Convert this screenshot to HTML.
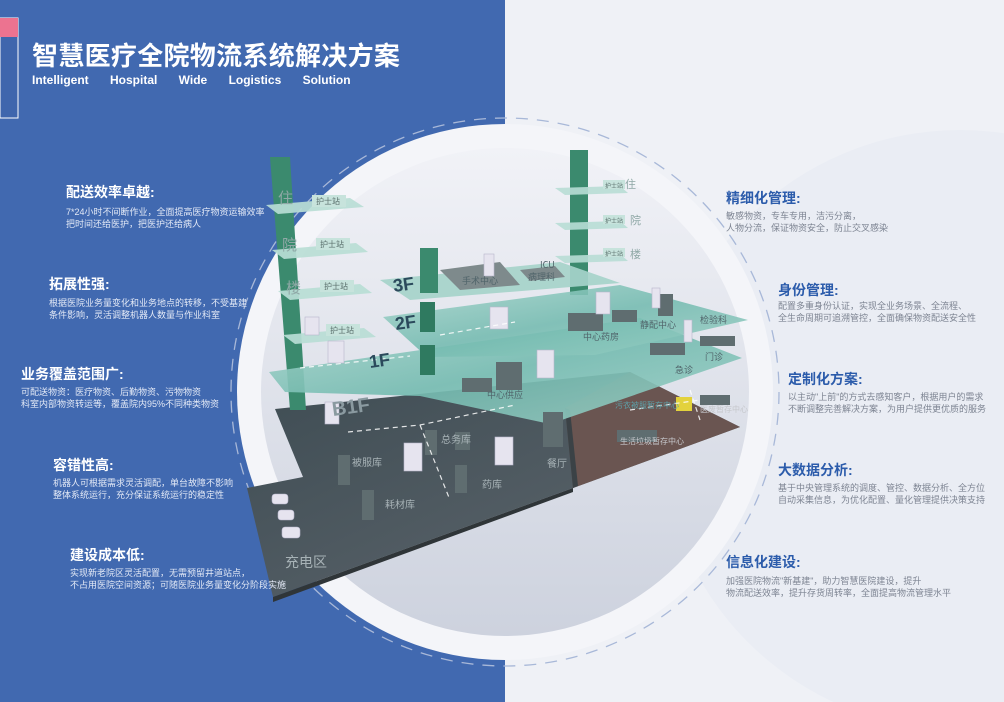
<!DOCTYPE html>
<html><head><meta charset="utf-8"><style>
html,body{margin:0;padding:0}
body{width:1004px;height:702px;overflow:hidden;position:relative;font-family:"Liberation Sans","Noto Sans CJK SC",sans-serif;background:#eef0f6}
.t{position:absolute;white-space:nowrap}
.lh{color:#fff;font-weight:bold;font-size:14px}
.ld{color:#e3e9f6;font-size:9px;line-height:12px}
.rh{color:#2c5cab;font-weight:bold;font-size:14px}
.rd{color:#7d8492;font-size:9px;line-height:12px}
</style></head><body>
<svg width="1004" height="702" style="position:absolute;left:0;top:0" xmlns="http://www.w3.org/2000/svg">
<defs>
<linearGradient id="disc" x1="0" y1="0" x2="0" y2="1"><stop offset="0" stop-color="#f1f2f7"/><stop offset="1" stop-color="#cdd2de"/></linearGradient>
<linearGradient id="pl" x1="0" y1="0" x2="1" y2="1"><stop offset="0" stop-color="#a9d6cd"/><stop offset="0.5" stop-color="#74bbb0"/><stop offset="1" stop-color="#9dd0c6"/></linearGradient>
<linearGradient id="dk" x1="0" y1="0" x2="1" y2="1"><stop offset="0" stop-color="#3e4c53"/><stop offset="1" stop-color="#5f676e"/></linearGradient>
</defs>
<rect x="0" y="0" width="505" height="702" fill="#4169b0"/>
<rect x="505" y="0" width="499" height="702" fill="#eff1f6"/>
<circle cx="960" cy="430" r="300" fill="#eaedf4"/>
<circle cx="505" cy="392" r="268" fill="#f4f5f9"/>
<circle cx="505" cy="392" r="244" fill="url(#disc)"/>
<circle cx="505" cy="392" r="274" fill="none" stroke="#a8b8d8" stroke-width="1.3" stroke-dasharray="12 9"/>
<rect x="0" y="18" width="18" height="100" fill="#3f66ad" stroke="#fff" stroke-width="1"/>
<rect x="0" y="18" width="18" height="19" fill="#ec7390"/>
<!-- basement -->
<polygon points="275,409 630,372 740,427 573,488 273,597 247,488 303,477" fill="url(#dk)"/>
<polygon points="273,597 573,488 573,492 273,602" fill="#2f3538"/>
<polygon points="565,408 630,372 740,427 573,488" fill="#6a5551"/>
<polygon points="565,408 573,488 578,486 570,410" fill="#3b4246"/>
<!-- left tower -->
<polygon points="270,157 290,157 306,410 290,410" fill="#3b8a6e"/>
<polygon points="266,205 350,198 364,207 278,214" fill="#b8ddd5" opacity=".92"/>
<polygon points="272,250 356,243 368,252 284,259" fill="#b8ddd5" opacity=".92"/>
<polygon points="278,291 360,284 372,293 290,300" fill="#b8ddd5" opacity=".92"/>
<polygon points="283,335 364,328 376,337 295,344" fill="#b8ddd5" opacity=".92"/>
<!-- right tower -->
<rect x="570" y="150" width="18" height="145" fill="#3b8a6e"/>
<polygon points="555,188 620,186 628,193 565,195" fill="#b8ddd5" opacity=".9"/>
<polygon points="555,223 620,221 628,228 565,230" fill="#b8ddd5" opacity=".9"/>
<polygon points="555,256 620,254 628,261 565,263" fill="#b8ddd5" opacity=".9"/>
<!-- floors -->
<polygon points="269,372 640,318 742,358 550,424 420,396 285,392" fill="url(#pl)" opacity=".9"/>
<polygon points="383,317 620,285 748,320 595,355 427,357" fill="url(#pl)" opacity=".88"/>
<polygon points="380,280 560,262 620,283 410,300" fill="#a6d3ca" opacity=".92"/>
<rect x="420" y="248" width="18" height="45" fill="#3b8a6e"/>
<rect x="420" y="302" width="15" height="30" fill="#2f7a60"/>
<rect x="420" y="345" width="15" height="30" fill="#2f7a60"/>
<polygon points="440,270 500,262 520,285 460,290" fill="#7e8a8c"/>
<polygon points="520,270 555,266 565,277 530,281" fill="#7e8a8c"/>
<g fill="#5f6d70">
<rect x="568" y="313" width="35" height="18"/><rect x="612" y="310" width="25" height="12"/><rect x="658" y="294" width="15" height="22"/>
<rect x="462" y="378" width="30" height="14"/><rect x="496" y="362" width="26" height="28"/>
<rect x="650" y="343" width="35" height="12"/><rect x="700" y="336" width="35" height="10"/>
<rect x="543" y="412" width="20" height="35"/><rect x="455" y="432" width="15" height="18"/>
<rect x="617" y="430" width="40" height="12"/><rect x="700" y="395" width="30" height="10"/>
<rect x="338" y="455" width="12" height="30"/><rect x="362" y="490" width="12" height="30"/>
<rect x="425" y="430" width="12" height="25"/><rect x="455" y="465" width="12" height="28"/>
</g>
<rect x="676" y="397" width="16" height="14" fill="#e3d23c"/>
<g fill="#e6e4ef" stroke="#b8b6cc" stroke-width=".6">
<rect x="484" y="254" width="10" height="22"/><rect x="596" y="292" width="14" height="22"/><rect x="652" y="288" width="8" height="20"/>
<rect x="490" y="307" width="18" height="22"/><rect x="537" y="350" width="17" height="28"/><rect x="305" y="317" width="14" height="18"/>
<rect x="328" y="341" width="16" height="22"/><rect x="325" y="402" width="14" height="22"/><rect x="404" y="443" width="18" height="28"/>
<rect x="495" y="437" width="18" height="28"/><rect x="684" y="320" width="8" height="22"/>
<rect x="272" y="494" width="16" height="10" rx="3"/><rect x="278" y="510" width="16" height="10" rx="3"/><rect x="282" y="527" width="18" height="11" rx="3"/>
</g>
<g stroke="#fff" stroke-width="1.2" stroke-dasharray="5 4" fill="none" opacity=".85">
<path d="M300,368 L410,356"/><path d="M440,335 L515,322"/><path d="M348,432 L420,425 L515,405"/><path d="M420,425 L450,500"/><path d="M630,410 L700,400"/><path d="M690,390 L700,420"/>
</g>
<g font-family="Liberation Sans,Noto Sans CJK SC,sans-serif" fill="#2b4a5c" font-weight="bold" font-size="18">
<text x="394" y="292" transform="rotate(-8 394 292)">3F</text><text x="396" y="330" transform="rotate(-8 396 330)">2F</text><text x="370" y="368" transform="rotate(-8 370 368)">1F</text>
</g>
<text x="333" y="416" font-size="20" fill="#8a9aa0" font-weight="bold" transform="rotate(-8 333 416)">B1F</text>
<g font-family="Noto Sans CJK SC,sans-serif" fill="#8fa8a6" font-size="15">
<text x="278" y="203">住</text><text x="282" y="250">院</text><text x="286" y="293">楼</text>
<text x="625" y="188" font-size="11">住</text><text x="630" y="224" font-size="11">院</text><text x="630" y="258" font-size="11">楼</text>
</g>
<g font-family="Noto Sans CJK SC,sans-serif" font-size="8" fill="#5a6f6c">
<rect x="312" y="195" width="34" height="12" fill="#c7e3dc"/><text x="316" y="204">护士站</text>
<rect x="316" y="238" width="34" height="12" fill="#c7e3dc"/><text x="320" y="247">护士站</text>
<rect x="320" y="280" width="34" height="12" fill="#c7e3dc"/><text x="324" y="289">护士站</text>
<rect x="326" y="324" width="34" height="12" fill="#c7e3dc"/><text x="330" y="333">护士站</text>
<rect x="603" y="180" width="22" height="9" fill="#c7e3dc"/><text x="605" y="188" font-size="6">护士站</text>
<rect x="603" y="215" width="22" height="9" fill="#c7e3dc"/><text x="605" y="223" font-size="6">护士站</text>
<rect x="603" y="248" width="22" height="9" fill="#c7e3dc"/><text x="605" y="256" font-size="6">护士站</text>
</g>
<g font-family="Noto Sans CJK SC,sans-serif" font-size="9" fill="#50646a">
<text x="462" y="284">手术中心</text><text x="540" y="268">ICU</text><text x="528" y="280">病理科</text>
<text x="583" y="340">中心药房</text><text x="640" y="328">静配中心</text><text x="700" y="323">检验科</text>
<text x="487" y="398">中心供应</text><text x="675" y="373">急诊</text><text x="705" y="360">门诊</text>
</g>
<g font-family="Noto Sans CJK SC,sans-serif" font-size="10" fill="#a7b2b6">
<text x="352" y="466">被服库</text><text x="441" y="443">总务库</text><text x="385" y="508">耗材库</text><text x="482" y="488">药库</text><text x="547" y="467">餐厅</text>
<text x="285" y="567" font-size="14">充电区</text>
<text x="620" y="444" font-size="8" fill="#c6c8cc">生活垃圾暂存中心</text><text x="700" y="412" font-size="8" fill="#c6c8cc">医废暂存中心</text><text x="615" y="408" font-size="8" fill="#5da0a8">污衣被服暂存中心</text>
</g>
</svg>
<div class="t" style="left:32px;top:36px;color:#fff;font-weight:bold;font-size:26px;letter-spacing:0.3px">智慧医疗全院物流系统解决方案</div>
<div class="t" style="left:32px;top:73px;color:#fff;font-weight:bold;font-size:12px;word-spacing:18px">Intelligent Hospital Wide Logistics Solution</div>

<div class="t lh" style="left:66px;top:182px">配送效率卓越:</div>
<div class="t ld" style="left:66px;top:206px">7*24小时不间断作业，全面提高医疗物资运输效率<br>把时间还给医护，把医护还给病人</div>
<div class="t lh" style="left:49px;top:274px">拓展性强:</div>
<div class="t ld" style="left:49px;top:297px">根据医院业务量变化和业务地点的转移，不受基建<br>条件影响，灵活调整机器人数量与作业科室</div>
<div class="t lh" style="left:21px;top:364px">业务覆盖范围广:</div>
<div class="t ld" style="left:21px;top:386px">可配送物资：医疗物资、后勤物资、污物物资<br>科室内部物资转运等，覆盖院内95%不同种类物资</div>
<div class="t lh" style="left:53px;top:455px">容错性高:</div>
<div class="t ld" style="left:53px;top:477px">机器人可根据需求灵活调配，单台故障不影响<br>整体系统运行，充分保证系统运行的稳定性</div>
<div class="t lh" style="left:70px;top:545px">建设成本低:</div>
<div class="t ld" style="left:70px;top:567px">实现新老院区灵活配置，无需预留井道站点，<br>不占用医院空间资源；可随医院业务量变化分阶段实施</div>

<div class="t rh" style="left:726px;top:188px">精细化管理:</div>
<div class="t rd" style="left:726px;top:210px">敏感物资，专车专用，洁污分离，<br>人物分流，保证物资安全，防止交叉感染</div>
<div class="t rh" style="left:778px;top:280px">身份管理:</div>
<div class="t rd" style="left:778px;top:300px">配置多重身份认证，实现全业务场景、全流程、<br>全生命周期可追溯管控，全面确保物资配送安全性</div>
<div class="t rh" style="left:788px;top:369px">定制化方案:</div>
<div class="t rd" style="left:788px;top:391px">以主动"上前"的方式去感知客户，根据用户的需求<br>不断调整完善解决方案，为用户提供更优质的服务</div>
<div class="t rh" style="left:778px;top:460px">大数据分析:</div>
<div class="t rd" style="left:778px;top:482px">基于中央管理系统的调度、管控、数据分析、全方位<br>自动采集信息，为优化配置、量化管理提供决策支持</div>
<div class="t rh" style="left:726px;top:552px">信息化建设:</div>
<div class="t rd" style="left:726px;top:575px">加强医院物流"新基建"，助力智慧医院建设，提升<br>物流配送效率，提升存货周转率，全面提高物流管理水平</div>
</body></html>
